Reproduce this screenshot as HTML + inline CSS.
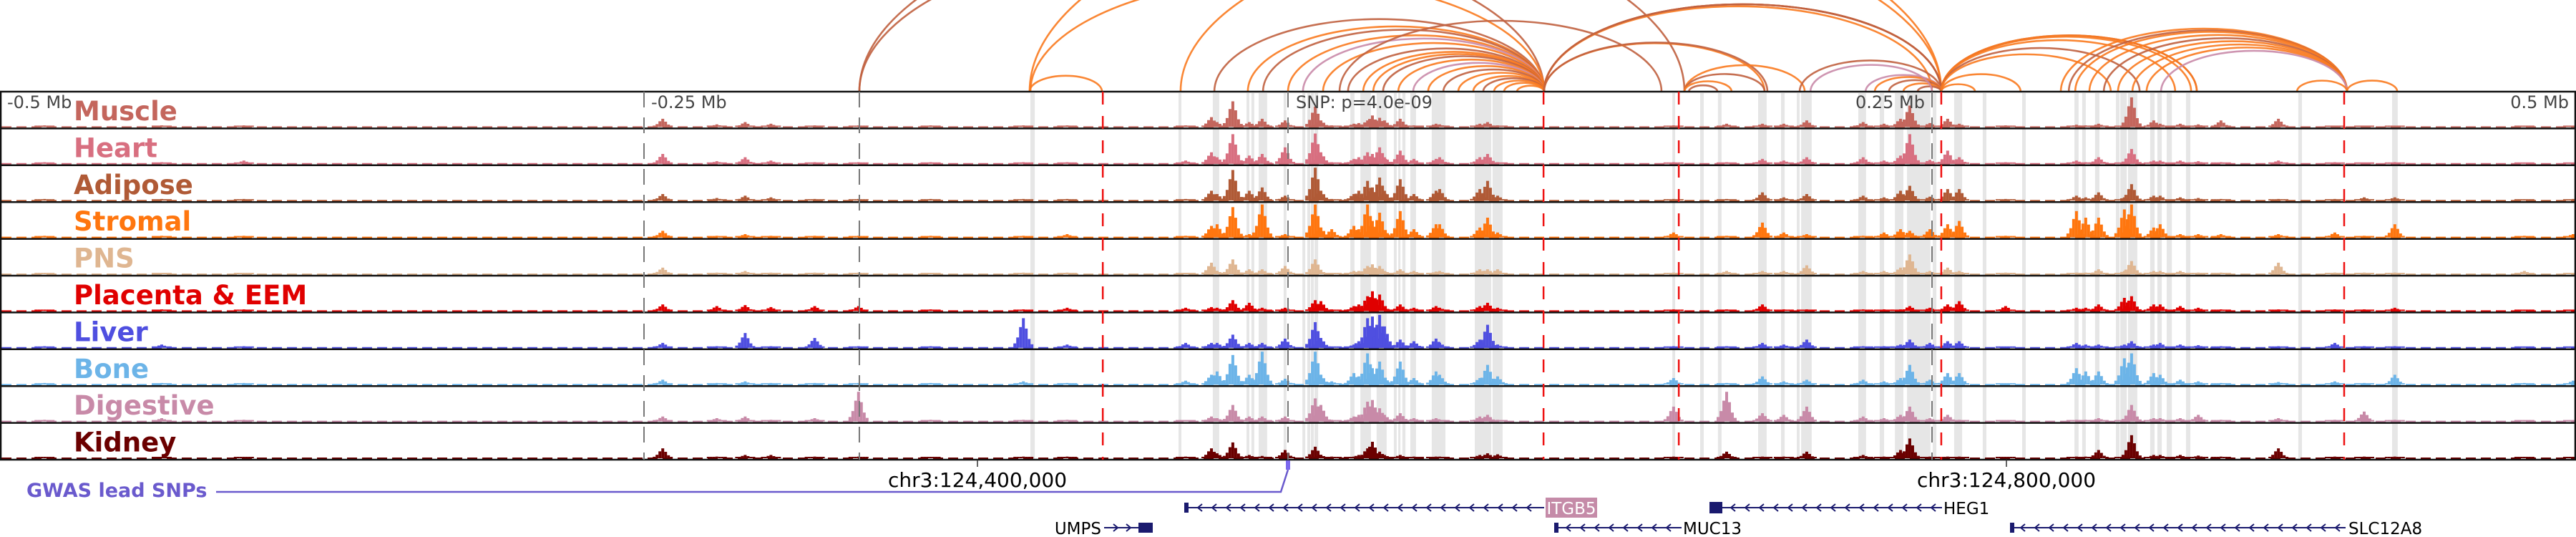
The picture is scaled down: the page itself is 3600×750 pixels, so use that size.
<!DOCTYPE html>
<html><head><meta charset="utf-8"><style>
html,body{margin:0;padding:0;background:#fff;}
svg{display:block;}
</style></head><body>
<svg id="chart" width="3600" height="750" viewBox="0 0 3600 750" xmlns="http://www.w3.org/2000/svg" font-family="'DejaVu Sans','Liberation Sans',sans-serif">
<g id="bands"></g>
<g id="arcs"></g>
<g id="tracks"></g>
<g id="vlines"></g>
<g id="axis"></g>
<g id="genes"></g>
</svg>
<script>
const trackNames = ["Muscle","Heart","Adipose","Stromal","PNS","Placenta & EEM","Liver","Bone","Digestive","Kidney"];
const trackColors = ["#c4665d","#d86f80","#b05a36","#ff760f","#dfb691","#e00000","#4f4fe0","#6cb4e8","#c88aa8","#6b0000"];
const peakKb = [-483,-437.5,-405.6,-243,-222,-211,-201,-184,-167,-139,-103,-86,
 -40,-30,-27.8,-21.7,-15.3,-10.3,-1.4,10.3,12.5,16.7,25.3,27.2,30.6,32.5,35.3,37.2,43.3,48.6,57.2,58.6,74.2,77.2,81.1,149.4,
 170,183.9,192.2,201.1,223,231.1,237.5,241.1,248.9,255.8,260.3,278.3,305.8,309.4,314.4,324.4,327.2,335.8,338.3,346.1,353.1,361.9,384.2,406.1,417.5,429.4,479.7,498.6];
const muscle = [.05,.05,.05,.25,.08,.15,.1,.05,.05,.05,.05,.05,
 .05,.3,.15,.78,.15,.25,.2,.62,.2,.05,.1,.12,.2,.35,.28,.2,.25,.05,.1,.08,.1,.15,.05,.05,
 .1,.1,.1,.2,.15,.1,.25,.65,.12,.25,.1,.05,.07,.05,.1,.05,.9,.2,.1,.1,.08,.2,.25,.03,.03,.03,.03,.03];
const heart = [.05,.05,.1,.3,.08,.2,.1,.05,.05,.05,.05,.05,
 .1,.35,.2,.9,.25,.3,.5,.92,.35,.05,.15,.2,.35,.3,.5,.2,.4,.15,.15,.2,.2,.3,.05,.05,
 .05,.15,.1,.2,.2,.1,.25,.9,.12,.4,.2,.05,.1,.05,.2,.05,.45,.1,.1,.1,.08,.05,.1,.05,.03,.05,.03,.03];
const adipose = [.05,.05,.05,.2,.08,.15,.1,.05,.05,.05,.05,.05,
 .05,.3,.2,.93,.3,.4,.15,1,.3,.05,.2,.3,.6,.4,.7,.3,.65,.2,.3,.35,.35,.6,.15,.05,
 .05,.25,.1,.2,.15,.1,.3,.45,.12,.35,.35,.05,.15,.1,.25,.1,.5,.15,.15,.1,.08,.05,.05,.05,.1,.1,.03,.05];
const stromal = [.05,.05,.05,.2,.05,.1,.05,.05,.05,.05,.05,.1,
 .05,.35,.4,.92,.1,1,.1,1,.3,.25,.35,.25,1,.5,.75,.2,.8,.25,.4,.4,.3,.6,.15,.15,
 .05,.45,.15,.1,.05,.15,.25,.2,.25,.4,.5,.05,.8,.6,.6,.85,1,.3,.4,.1,.1,.1,.1,.15,.05,.4,.05,.1];
const pns = [.03,.03,.03,.2,.05,.1,.05,.05,.05,.03,.05,.05,
 .03,.35,.1,.45,.15,.15,.25,.45,.1,.03,.1,.1,.25,.3,.25,.1,.15,.1,.08,.1,.15,.15,.15,.05,
 .1,.1,.1,.27,.1,.1,.2,.6,.1,.2,.1,.05,.05,.05,.15,.1,.4,.1,.1,.1,.05,.05,.35,.05,.05,.05,.1,.03];
const placenta = [.03,.05,.05,.2,.15,.18,.12,.15,.15,.05,.05,.1,
 .1,.12,.1,.33,.25,.1,.1,.33,.3,.05,.15,.2,.45,.6,.5,.1,.2,.1,.15,.1,.15,.25,.1,.05,
 .05,.2,.05,.05,.05,.05,.05,.15,.1,.2,.3,.15,.1,.1,.2,.4,.45,.2,.2,.15,.1,.05,.05,.05,.05,.1,.03,.03];
const liver = [.05,.1,.05,.15,.05,.45,.05,.3,.05,.05,.9,.1,
 .15,.15,.15,.4,.15,.15,.28,.78,.3,.02,.1,.2,.9,.95,1,.65,.25,.2,.28,.15,.25,.7,.1,.05,
 .05,.15,.1,.25,.05,.05,.1,.25,.15,.2,.2,.02,.15,.1,.1,.1,.2,.1,.15,.1,.08,.05,.05,.15,.05,.05,.03,.03];
const bone = [.05,.05,.05,.15,.05,.1,.05,.05,.05,.05,.1,.05,
 .12,.3,.4,.9,.3,1,.18,1,.3,.1,.35,.25,.95,.5,.7,.2,.7,.2,.4,.3,.2,.6,.25,.2,
 .05,.25,.1,.15,.15,.1,.2,.6,.15,.35,.35,.02,.5,.4,.4,.8,.95,.35,.3,.15,.1,.05,.08,.1,.05,.3,.05,.12];
const digestive = [.05,.1,.05,.15,.1,.15,.05,.1,.9,.05,.05,.05,
 .03,.15,.1,.5,.15,.15,.15,.7,.5,.05,.15,.2,.6,.65,.4,.2,.25,.1,.1,.05,.15,.2,.05,.45,
 .9,.25,.2,.45,.15,.1,.2,.45,.1,.2,.05,.02,.05,.05,.1,.05,.5,.1,.1,.1,.2,.05,.1,.05,.3,.05,.03,.03];
const kidney = [.03,.03,.03,.3,.05,.1,.1,.05,.05,.03,.05,.05,
 .05,.3,.15,.48,.1,.07,.25,.35,.1,.05,.05,.1,.3,.5,.2,.1,.1,.05,.05,.05,.1,.15,.12,.05,
 .2,.05,.05,.2,.1,.05,.25,.6,.05,.05,.05,.02,.05,.05,.25,.05,.7,.1,.1,.1,.08,.05,.3,.05,.05,.05,.03,.03];
const trackValues = [muscle,heart,adipose,stromal,pns,placenta,liver,bone,digestive,kidney];
const bandStart = [-100,-42.5,-29.2,-16.1,-14.2,-11.4,-1.7,5.6,7.5,8.9,10.3,24.2,28.1,34.4,41.1,42.8,44.4,47.5,55.8,72.5,79.4,149.2,160,166.9,182.5,191.4,197.5,199.2,221.4,229.7,235.6,240.3,250.3,258.6,269.7,285,305.3,308.3,313.3,321.4,323.1,326.1,334.7,337.5,341.1,348.6,392.2,428.6];
const bandEnd   = [-98.3,-41.4,-26.7,-15,-13.1,-8.1,-0.6,6.7,8.6,10,11.7,25.8,32.2,38.3,42.2,43.6,45.6,49.7,61.1,78.9,83.3,150.3,161.4,168.3,185.8,192.8,198.6,203.3,224.4,231.4,238.9,249.4,251.7,261.7,271.1,286.4,306.9,309.7,315,322.8,325.6,329.7,336.4,339.2,343.1,350.3,393.6,430.8];
const arcStart = [-28.6,-15.6,-9.7,0,5.8,13.6,23.3,29.2,33.1,36.9,42.8,48.6,54.4,60.3,66.1,71.9,75.8,80,83.9,88.9,
 -100.3,-100.3,-166.4,-100,-41.7,20,-166.4,99.4,99.4,99.4,99.4,99.4,99.4,153.9,153.9,153.9,155.6,198.6,224.2,227.8,233.3,238.9,244.4,202.8,
 253.6,253.6,253.6,253.6,253.6,253.6,253.6,253.6,300,303.1,305.6,311.1,316.7,322.2,327.8,333.3,338.9,391.7,411.1];
const arcEnd = [99.4,99.4,99.4,99.4,99.4,99.4,99.4,99.4,99.4,99.4,99.4,99.4,99.4,99.4,99.4,99.4,99.4,99.4,99.4,99.4,
 -72.2,253.6,99.4,99.4,253.6,145,153.9,185,186.1,253.6,253.6,250,253.6,200.6,185,172.2,166.7,253.6,253.6,253.6,253.6,253.6,253.6,250,
 266.7,284.4,350.6,352.8,352.8,344.4,330.6,319.4,411.1,411.1,411.1,411.1,411.1,411.1,411.1,411.1,411.1,411.1,430.6];
const arcKind = [1,0,1,0,2,0,1,0,0,1,0,2,0,1,0,0,1,0,0,0,
 0,0,1,0,0,1,1,0,1,0,1,0,1,0,1,0,1,1,2,0,1,0,1,2,
 0,0,0,1,0,0,1,0,0,1,0,0,1,0,0,0,2,0,0];
const redKb = [-71.9,99.2,151.7,253.6,410];
const greyKb = [-250,-166.4,0,250];
const axisKb = [-500,-250,250,500];
const axisLabels = ["-0.5 Mb","-0.25 Mb","0.25 Mb","0.5 Mb"];

const NS="http://www.w3.org/2000/svg";
const X = kb => 1800 + kb*3.6;
const TOP=128, TH=51.4, NT=10, BOT=TOP+TH*NT;
const trackY = i => TOP + i*TH;
const trackH = v => v*46;
function mk(tag, attrs, parent){const e=document.createElementNS(NS,tag);for(const k in attrs)e.setAttribute(k,attrs[k]);parent.appendChild(e);return e;}

const gB=document.getElementById('bands');
for(let i=0;i<bandStart.length;i++){
  const r=mk('rect',{x:X(bandStart[i]),y:TOP+2,width:Math.max(3,X(bandEnd[i])-X(bandStart[i])),height:BOT-TOP-2,fill:'#e6e6e6'},gB);
  
  
}
const arcCols=['#f97a1f','#c0603f','#c98aa8'];
const gA=document.getElementById('arcs');
for(let i=0;i<arcStart.length;i++){
  const x1=X(arcStart[i]), x2=X(arcEnd[i]); const rx=(x2-x1)/2; const ry=(x2-x1)*0.22;
  const p=mk('path',{d:`M${x1},${TOP} A${rx},${ry} 0 0 1 ${x2},${TOP}`,fill:'none',stroke:arcCols[arcKind[i]],'stroke-width':2.6,opacity:0.9},gA);
  
  
}
const gT=document.getElementById('tracks');
for(let t=0;t<NT;t++){
  const g=mk('g',{},gT);
  
  
  const base=trackY(t)+TH-2, col=trackColors[t];
  mk('line',{x1:2,x2:3598,y1:base,y2:base,stroke:col,'stroke-width':2,'stroke-dasharray':'14 7'},g);
  const vals=trackValues[t];
  for(let i=0;i<peakKb.length;i++){
    const cx=X(peakKb[i]), h=trackH(vals[i]);
    const shape=[[-13,0.15,4],[-9,0.35,4],[-5,0.7,4],[-1,1,4],[3,0.65,4],[7,0.3,4],[11,0.12,4]];
    for(const [dx,f,w] of shape){
      const hh=Math.max(2,h*f);
      const b=mk('rect',{x:cx+dx,y:base-hh,width:w,height:hh,fill:col},g);
      if(f===1){}
    }
  }
  const lb=mk('text',{x:103,y:trackY(t)+40,fill:col,'font-size':37,'font-weight':'bold'},g);
  lb.textContent=trackNames[t];
  
  
  if(t>0){mk('line',{x1:0,x2:3600,y1:trackY(t),y2:trackY(t),stroke:'#111','stroke-width':2.5},g);}
}
const gV=document.getElementById('vlines');
mk('rect',{x:1,y:TOP,width:3598,height:BOT-TOP,fill:'none',stroke:'#111','stroke-width':2.5},gV);
for(const k of greyKb){const l=mk('line',{x1:X(k),x2:X(k),y1:TOP,y2:BOT,stroke:'#777','stroke-width':2,'stroke-dasharray':'22 14'},gV);
  
  }
for(const k of redKb){const l=mk('line',{x1:X(k),x2:X(k),y1:TOP,y2:BOT,stroke:'#ee1111','stroke-width':2.5,'stroke-dasharray':'18 16'},gV);
  
  }
const gX=document.getElementById('axis');
for(let i=0;i<axisKb.length;i++){
  const x=X(axisKb[i]); const left=axisKb[i]<0;
  const t=mk('text',{x:left?x+10:x-10,y:151,fill:'#444','font-size':24,'text-anchor':left?'start':'end'},gX);
  t.textContent=axisLabels[i];
  
  
}
const snp=mk('text',{x:1811,y:151,fill:'#444','font-size':24},gX);
snp.textContent='SNP: p=4.0e-09';


</script>
<svg width="3600" height="750" viewBox="0 0 3600 750" style="position:absolute;left:0;top:0;" xmlns="http://www.w3.org/2000/svg" font-family="'DejaVu Sans','Liberation Sans',sans-serif">
<line x1="1366" y1="642" x2="1366" y2="652" stroke="#333" stroke-width="1.5"/>
<line x1="2804" y1="642" x2="2804" y2="652" stroke="#333" stroke-width="1.5"/>
<text x="1366" y="680" font-size="28" text-anchor="middle" fill="#000">chr3:124,400,000</text>
<text x="2804" y="680" font-size="28" text-anchor="middle" fill="#000">chr3:124,800,000</text>
<text x="37" y="694" font-size="27" font-weight="bold" fill="#6a5acd">GWAS lead SNPs</text>
<polyline points="302,687 1790,687 1800,656" fill="none" stroke="#6a5acd" stroke-width="2.5"/>
<rect x="1797" y="643" width="6" height="13" fill="#7b68ee"/>
<g stroke="#1a1a6e" fill="none" stroke-width="2">
<line x1="1656" y1="709" x2="2158" y2="709"/>
<rect x="1656" y="703" width="4" height="12" fill="#1a1a6e"/>
<path d="M1680,704 l-6,5 l6,5 M1700,704 l-6,5 l6,5 M1720,704 l-6,5 l6,5 M1740,704 l-6,5 l6,5 M1760,704 l-6,5 l6,5 M1780,704 l-6,5 l6,5 M1800,704 l-6,5 l6,5 M1820,704 l-6,5 l6,5 M1840,704 l-6,5 l6,5 M1860,704 l-6,5 l6,5 M1880,704 l-6,5 l6,5 M1900,704 l-6,5 l6,5 M1920,704 l-6,5 l6,5 M1940,704 l-6,5 l6,5 M1960,704 l-6,5 l6,5 M1980,704 l-6,5 l6,5 M2000,704 l-6,5 l6,5 M2020,704 l-6,5 l6,5 M2040,704 l-6,5 l6,5 M2060,704 l-6,5 l6,5 M2080,704 l-6,5 l6,5 M2100,704 l-6,5 l6,5 M2120,704 l-6,5 l6,5 M2140,704 l-6,5 l6,5"/>
</g>
<rect x="2160" y="695" width="72" height="28" fill="#c58ba8"/>
<text x="2196" y="718" font-size="23" text-anchor="middle" fill="#fff">ITGB5</text>
<g stroke="#1a1a6e" fill="none" stroke-width="2">
<line x1="2390" y1="709" x2="2714" y2="709"/>
<rect x="2390" y="702" width="16" height="14" fill="#1a1a6e"/>
<path d="M2425,704 l-6,5 l6,5 M2445,704 l-6,5 l6,5 M2465,704 l-6,5 l6,5 M2485,704 l-6,5 l6,5 M2505,704 l-6,5 l6,5 M2525,704 l-6,5 l6,5 M2545,704 l-6,5 l6,5 M2565,704 l-6,5 l6,5 M2585,704 l-6,5 l6,5 M2605,704 l-6,5 l6,5 M2625,704 l-6,5 l6,5 M2645,704 l-6,5 l6,5 M2665,704 l-6,5 l6,5 M2685,704 l-6,5 l6,5 M2705,704 l-6,5 l6,5"/>
</g>
<text x="2716" y="718" font-size="23" fill="#000">HEG1</text>
<text x="1539" y="746" font-size="23" text-anchor="end" fill="#000">UMPS</text>
<g stroke="#1a1a6e" fill="none" stroke-width="2">
<line x1="1543" y1="737" x2="1610" y2="737"/>
<rect x="1592" y="731" width="18" height="12" fill="#1a1a6e"/>
<path d="M1556,732 l6,5 l-6,5 M1574,732 l6,5 l-6,5"/>
</g>
<g stroke="#1a1a6e" fill="none" stroke-width="2">
<line x1="2173" y1="737" x2="2350" y2="737"/>
<rect x="2173" y="731" width="4" height="12" fill="#1a1a6e"/>
<path d="M2195,732 l-6,5 l6,5 M2215,732 l-6,5 l6,5 M2235,732 l-6,5 l6,5 M2255,732 l-6,5 l6,5 M2275,732 l-6,5 l6,5 M2295,732 l-6,5 l6,5 M2315,732 l-6,5 l6,5 M2335,732 l-6,5 l6,5"/>
</g>
<text x="2352" y="746" font-size="23" fill="#000">MUC13</text>
<g stroke="#1a1a6e" fill="none" stroke-width="2">
<line x1="2810" y1="737" x2="3278" y2="737"/>
<rect x="2810" y="731" width="4" height="12" fill="#1a1a6e"/>
<path d="M2830,732 l-6,5 l6,5 M2850,732 l-6,5 l6,5 M2870,732 l-6,5 l6,5 M2890,732 l-6,5 l6,5 M2910,732 l-6,5 l6,5 M2930,732 l-6,5 l6,5 M2950,732 l-6,5 l6,5 M2970,732 l-6,5 l6,5 M2990,732 l-6,5 l6,5 M3010,732 l-6,5 l6,5 M3030,732 l-6,5 l6,5 M3050,732 l-6,5 l6,5 M3070,732 l-6,5 l6,5 M3090,732 l-6,5 l6,5 M3110,732 l-6,5 l6,5 M3130,732 l-6,5 l6,5 M3150,732 l-6,5 l6,5 M3170,732 l-6,5 l6,5 M3190,732 l-6,5 l6,5 M3210,732 l-6,5 l6,5 M3230,732 l-6,5 l6,5 M3250,732 l-6,5 l6,5 M3270,732 l-6,5 l6,5"/>
</g>
<text x="3282" y="746" font-size="23" fill="#000">SLC12A8</text>
</svg>
</body></html>
